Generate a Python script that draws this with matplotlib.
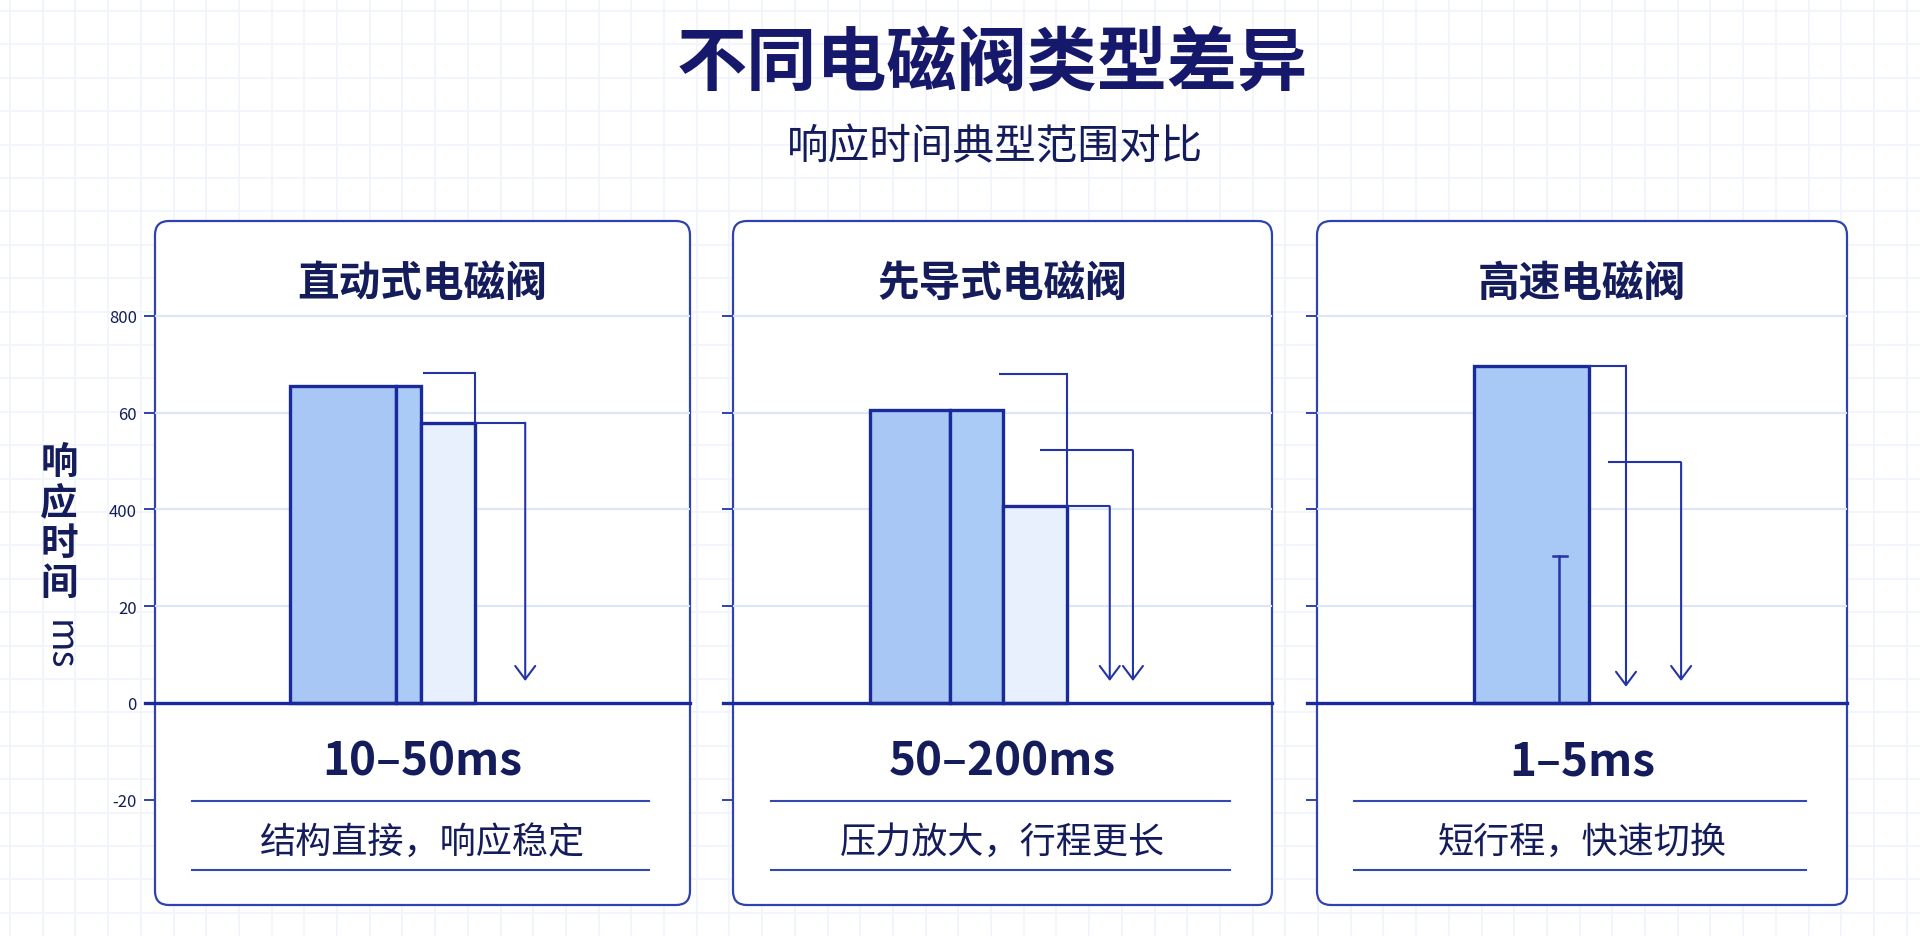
import numpy as np
import matplotlib
matplotlib.use('Agg')
import matplotlib.pyplot as plt
from matplotlib.patches import FancyBboxPatch
from matplotlib.transforms import IdentityTransform

plt.rcParams['font.family'] = ['Noto Sans CJK SC', 'DejaVu Sans']

# data
chart_title = '不同电磁阀类型差异'
chart_subtitle = '响应时间典型范围对比'
valve_types = ['直动式电磁阀', '先导式电磁阀', '高速电磁阀']
range_labels = ['10–50ms', '50–200ms', '1–5ms']
notes = ['结构直接，响应稳定', '压力放大，行程更长', '短行程，快速切换']

tick_values = [80, 60, 40, 20, 0, -20]
tick_labels = ['800', '60', '400', '20', '0', '-20']

bar_heights = [[65.4, 65.4, 57.9],
               [60.6, 60.6, 40.6],
               [69.7]]
bar_fills = [['#a8c7f4', '#abcbf7', '#e7f0fc'],
             ['#a8c7f4', '#abcbf7', '#e7f0fc'],
             ['#a8c8f5']]

# leader lines: level where they start, value where they end, arrow or not
leader_levels = [[68.2, 57.9], [68.0, 52.2, 40.6], [69.7, 49.7]]
leader_ends = [[57.9, 4.5], [40.6, 4.5, 4.5], [3.3, 4.5]]
leader_arrows = [[False, True], [False, True, True], [True, True]]

# whisker in the last panel
whisker_top = 30.3

# layout (percent of panel width)
bar_edges = [[(25.2, 45.0), (45.0, 49.7), (49.7, 59.8)],
             [(25.4, 40.2), (40.2, 50.1), (50.1, 62.0)],
             [(29.6, 51.3)]]
leader_x = [[(50.1, 59.8), (59.8, 69.2)],
            [(49.4, 62.0), (57.0, 74.2), (62.0, 69.9)],
            [(51.3, 58.3), (54.9, 68.7)]]
whisker_x = 45.7

W, H = 1920, 937
panel_px = [(155, 690), (733, 1272), (1317, 1847)]
panel_top, panel_bottom = 222, 906
y_min, y_max = -41.8, 99.6

dark = '#141c5c'
edge = '#1a2a9a'
line_c = '#2434a6'
border = '#2f43b0'

fig = plt.figure(figsize=(W / 100, H / 100), dpi=100)
fig.patch.set_facecolor('white')

# faint paper grid in the background
bg = fig.add_axes([0, 0, 1, 1], zorder=0)
bg.set_xlim(0, W)
bg.set_ylim(H, 0)
bg.axis('off')
for gx in np.arange(10, W, 32.7):
    bg.axvline(gx, color='#f0f5fc', lw=1.2)
for gy in np.arange(12, H, 33.4):
    bg.axhline(gy, color='#f0f5fc', lw=1.2)

fig.text(992 / W, 1 - 65 / H, chart_title, ha='center', va='center',
         fontsize=50.5, fontweight='bold', color='#16196b')
fig.text(995 / W, 1 - 148 / H, chart_subtitle, ha='center', va='center',
         fontsize=30, color=dark)

# y label: stacked characters and rotated unit
fig.text(59 / W, 1 - 523 / H, '\n'.join('响应时间'), ha='center', va='center',
         fontsize=27, fontweight='bold', color=dark, linespacing=1.05)
fig.text(59 / W, 1 - 645 / H, 'ms', ha='center', va='center', rotation=270,
         fontsize=26, color=dark)

for i, (x0, x1) in enumerate(panel_px):
    rect = [x0 / W, 1 - panel_bottom / H, (x1 - x0) / W, (panel_bottom - panel_top) / H]

    box = FancyBboxPatch((x0, H - panel_bottom), x1 - x0, panel_bottom - panel_top,
                         boxstyle='round,pad=0,rounding_size=14',
                         transform=IdentityTransform(), facecolor='white',
                         edgecolor=border, lw=1.6, zorder=0.5)
    fig.add_artist(box)

    ax = fig.add_axes(rect, zorder=1)
    ax.set_facecolor('none')
    ax.set_xlim(0, 100)
    ax.set_ylim(y_min, y_max)
    for s in ax.spines.values():
        s.set_visible(False)
    ax.set_xticks([])
    ax.set_yticks(tick_values)
    ax.tick_params(axis='y', direction='out', length=8, width=1.4, color=border,
                   labelsize=12, labelcolor=dark, pad=5)
    if i == 0:
        ax.set_yticklabels(tick_labels)
    else:
        ax.set_yticklabels([])

    for v in tick_values:
        if v > 0:
            ax.axhline(v, color='#dbe6f8', lw=1.5, zorder=1)

    # bars
    for (b0, b1), h, fc in zip(bar_edges[i], bar_heights[i], bar_fills[i]):
        ax.bar(b0, h, width=b1 - b0, align='edge', color=fc, edgecolor=edge,
               linewidth=2.4, zorder=3)

    # leader lines
    for (l0, l1), lv, le, arr in zip(leader_x[i], leader_levels[i],
                                     leader_ends[i], leader_arrows[i]):
        ax.plot([l0, l1], [lv, lv], color=line_c, lw=1.5, zorder=4,
                solid_capstyle='butt')
        if arr:
            ax.annotate('', xy=(l1, le), xytext=(l1, lv),
                        arrowprops=dict(arrowstyle='->,head_length=0.6,head_width=0.45',
                                        color=line_c, lw=1.5, shrinkA=0, shrinkB=0,
                                        mutation_scale=16),
                        zorder=4)
        else:
            ax.plot([l1, l1], [lv, le], color=line_c, lw=1.5, zorder=4)

    if i == 2:
        ax.plot([whisker_x, whisker_x], [0, whisker_top], color=line_c, lw=1.8, zorder=4)
        ax.plot([whisker_x - 1.2, whisker_x + 1.5], [whisker_top, whisker_top],
                color=line_c, lw=1.8, zorder=4)

    # zero line, running out over the tick
    ax.plot([-0.019, 1.0], [0, 0], transform=ax.get_yaxis_transform(),
            color=edge, lw=2.4, clip_on=False, zorder=5)

    ax.text(50, 86.8, valve_types[i], ha='center', va='center', fontsize=30,
            fontweight='bold', color=dark)
    ax.text(50, -12.2, range_labels[i], ha='center', va='center', fontsize=33,
            fontweight='bold', color=dark)
    ax.plot([7, 92.3], [-20.3, -20.3], color='#3448b2', lw=1.5, zorder=4)
    ax.text(50, -28.8, notes[i], ha='center', va='center', fontsize=26, color=dark)
    ax.plot([7, 92.3], [-34.5, -34.5], color='#3448b2', lw=1.5, zorder=4)

fig.savefig('out.png', dpi=100, facecolor='white')
